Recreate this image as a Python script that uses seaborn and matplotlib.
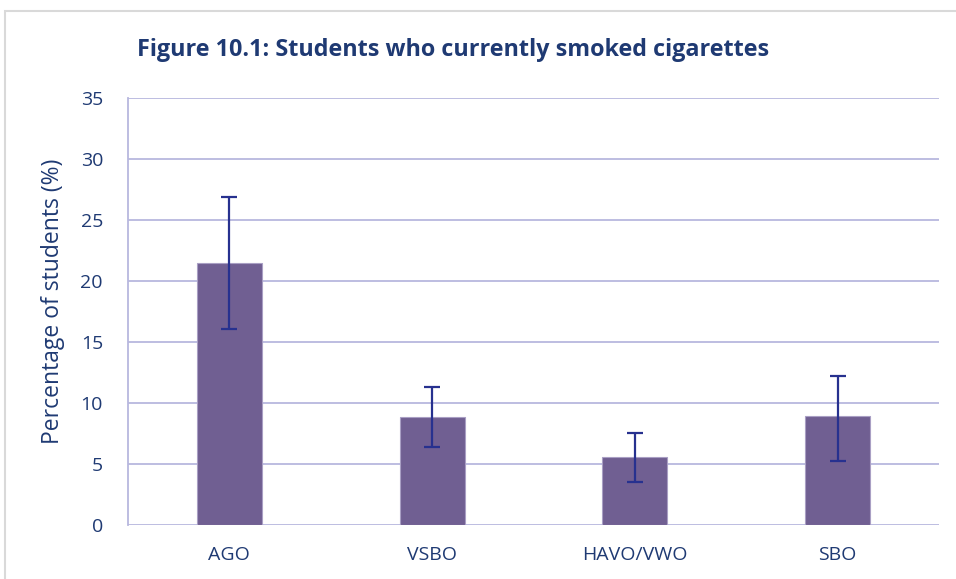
import matplotlib
matplotlib.use("Agg")
import matplotlib.pyplot as plt
from matplotlib.patches import Rectangle
import seaborn as sns
import pandas as pd

categories = ["AGO", "VSBO", "HAVO/VWO", "SBO"]
percent = [21.5, 8.85, 5.55, 8.9]
ci_low = [16.1, 6.4, 3.55, 5.25]
ci_high = [26.85, 11.3, 7.55, 12.25]
y_ticks = [0, 5, 10, 15, 20, 25, 30, 35]

text_color = "#1F3A73"
bar_color = "#705F92"
err_color = "#27318F"
grid_color = "#B8B8DE"

sns.set_theme(style="white")
plt.rcParams["font.family"] = ["Open Sans", "DejaVu Sans"]

df = pd.DataFrame({"level": categories, "pct": percent})

fig = plt.figure(figsize=(9.56, 5.79), dpi=100)
ax = fig.add_axes([128 / 956, 1 - 525 / 579, (939 - 128) / 956, (525 - 98) / 579])

sns.barplot(data=df, x="level", y="pct", color=bar_color, saturation=1,
            width=0.32, errorbar=None, ax=ax, edgecolor="#A99FC4", linewidth=0.8,
            zorder=3)

xs = range(len(categories))
lower = [p - lo for p, lo in zip(percent, ci_low)]
upper = [hi - p for p, hi in zip(percent, ci_high)]
ax.errorbar(list(xs), percent, yerr=[lower, upper], fmt="none", ecolor=err_color,
            elinewidth=1.6, capsize=6, capthick=1.6, zorder=4)

ax.set_ylim(0, 35)
ax.set_yticks(y_ticks)
ax.set_xlim(-0.5, len(categories) - 0.5)
ax.yaxis.grid(True, color=grid_color, linewidth=1.3, zorder=0)
ax.set_axisbelow(True)
for side in ["top", "right", "bottom"]:
    ax.spines[side].set_visible(False)
ax.spines["left"].set_color(grid_color)
ax.spines["left"].set_linewidth(1.3)
ax.tick_params(axis="both", length=0, labelsize=14, colors=text_color)
ax.tick_params(axis="y", pad=18)
ax.tick_params(axis="x", pad=15)
ax.set_xlabel("")
ax.set_ylabel("Percentage of students (%)", fontsize=16.5, color=text_color)
ax.yaxis.set_label_coords(-(128 - 65) / 811, 0.525)

fig.text(137 / 956, 1 - 50 / 579, "Figure 10.1: Students who currently smoked cigarettes",
         fontsize=16.8, fontweight="bold", color=text_color, ha="left", va="center")

fig.patches.append(Rectangle((5 / 956, -0.1), 1.2, 1 - 11 / 579 + 0.1,
                             transform=fig.transFigure, fill=False,
                             edgecolor="#D9D9D9", linewidth=1.5))

fig.savefig("out.png", dpi=100)
